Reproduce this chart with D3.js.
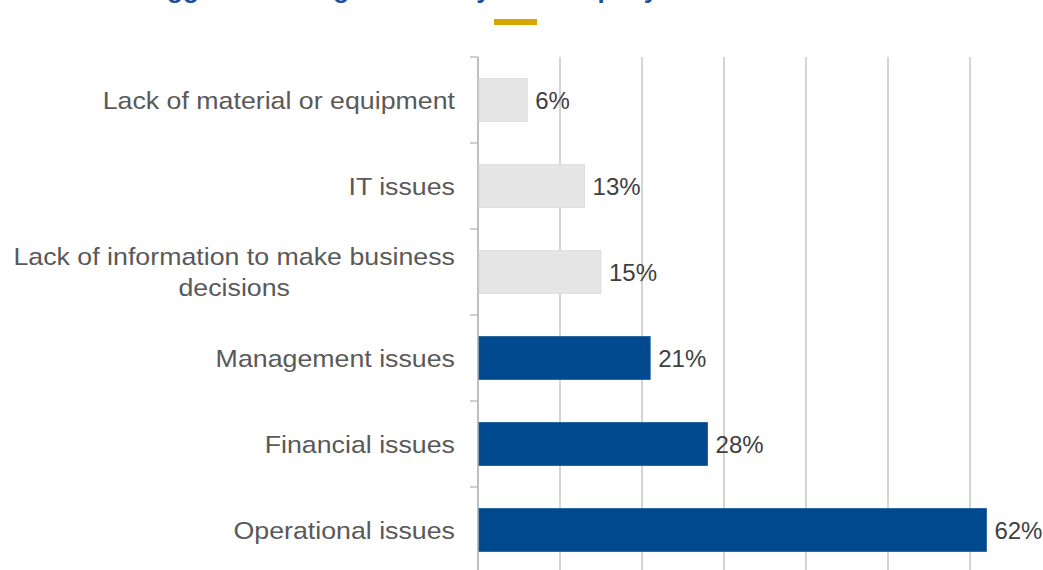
<!DOCTYPE html>
<html>
<head>
<meta charset="utf-8">
<script src="https://cdn.jsdelivr.net/npm/d3@7"></script>
<style>
  html, body { margin: 0; padding: 0; background: #ffffff; }
  svg { display: block; }
  text { font-family: "Liberation Sans", Arial, sans-serif; }
</style>
</head>
<body>
<svg id="chart" width="1043" height="570"></svg>
<script>
// Survey: biggest challenges faced by the company (share of respondents, %)
const categories = [
  ["Lack of material or equipment"],
  ["IT issues"],
  ["Lack of information to make business", "decisions"],
  ["Management issues"],
  ["Financial issues"],
  ["Operational issues"]
];
const values = [6, 13, 15, 21, 28, 62];
const highlighted = [false, false, false, true, true, true];
const gridTicks = [10, 20, 30, 40, 50, 60];
const titleText = "Biggest challenges faced by the company";

const svg = d3.select("#chart");

const plotLeft = 478, plotRight = 1052, plotTop = 57, plotBottom = 573;

const keys = categories.map(c => c.join(" "));
const x = d3.scaleLinear().domain([0, 70]).range([plotLeft, plotRight]);
const y = d3.scaleBand().domain(keys).range([plotTop, plotBottom]).paddingInner(0.5).paddingOuter(0.25);

// Title (runs above the visible area) and its gold underline accent
svg.append("text")
  .attr("x", 141).attr("y", -2)
  .attr("font-size", 26).attr("font-weight", "bold")
  .attr("fill", "#1F4E9A")
  .text(titleText);
svg.append("rect")
  .attr("x", 494).attr("y", 19).attr("width", 43).attr("height", 6)
  .attr("fill", "#D9A800");

// Vertical gridlines
svg.append("g").selectAll("line")
  .data(gridTicks).join("line")
  .attr("x1", d => x(d)).attr("x2", d => x(d))
  .attr("y1", plotTop).attr("y2", plotBottom)
  .attr("stroke", "#C6C6C6").attr("stroke-width", 1.5);

// Category axis with tick marks between bands
const step = y.step();
const boundaries = d3.range(keys.length + 1).map(i => plotTop + i * step);
svg.append("g").selectAll("line")
  .data(boundaries).join("line")
  .attr("x1", plotLeft - 8).attr("x2", plotLeft)
  .attr("y1", d => d).attr("y2", d => d)
  .attr("stroke", "#BFBFBF").attr("stroke-width", 1.5);
svg.append("line")
  .attr("x1", plotLeft).attr("x2", plotLeft)
  .attr("y1", plotTop).attr("y2", plotBottom)
  .attr("stroke", "#BFBFBF").attr("stroke-width", 2);

// Bars
svg.append("g").selectAll("rect")
  .data(values).join("rect")
  .attr("x", x(0) + 1)
  .attr("y", (d, i) => y(keys[i]))
  .attr("width", d => x(d) - x(0) - 1)
  .attr("height", y.bandwidth())
  .attr("fill", (d, i) => highlighted[i] ? "#00498F" : "#E5E5E5")
  .attr("stroke", (d, i) => highlighted[i] ? "#1A5A9A" : "#DADADA")
  .attr("stroke-width", 0.8);

// Value labels
svg.append("g").selectAll("text")
  .data(values).join("text")
  .attr("x", d => x(d) + 8)
  .attr("y", (d, i) => y(keys[i]) + y.bandwidth() / 2)
  .attr("dy", "0.36em")
  .attr("font-size", 24)
  .attr("fill", "#404040")
  .text(d => d + "%");

// Category labels: slightly widened type, right-aligned block;
// multi-line labels are centred under their widest line
const labelRight = 455;
const lineGap = 31;
const widen = 1.115;
const lg = svg.append("g");
categories.forEach((lines, i) => {
  const cy = y(keys[i]) + y.bandwidth() / 2;
  const t = lg.append("text")
    .attr("font-size", 24)
    .attr("fill", "#595959")
    .attr("transform", `translate(${labelRight},0) scale(${widen},1)`);
  const n = lines.length;
  lines.forEach((ln, j) => {
    t.append("tspan").attr("y", cy + (j - (n - 1) / 2) * lineGap).attr("dy", "0.36em").text(ln);
  });
  if (n === 1) {
    t.attr("text-anchor", "end");
    t.selectAll("tspan").attr("x", 0);
  } else {
    t.attr("text-anchor", "middle");
    const widths = [];
    t.selectAll("tspan").each(function () { widths.push(this.getComputedTextLength()); });
    const wmax = d3.max(widths);
    t.selectAll("tspan").attr("x", -wmax / 2);
  }
});
</script>
</body>
</html>
